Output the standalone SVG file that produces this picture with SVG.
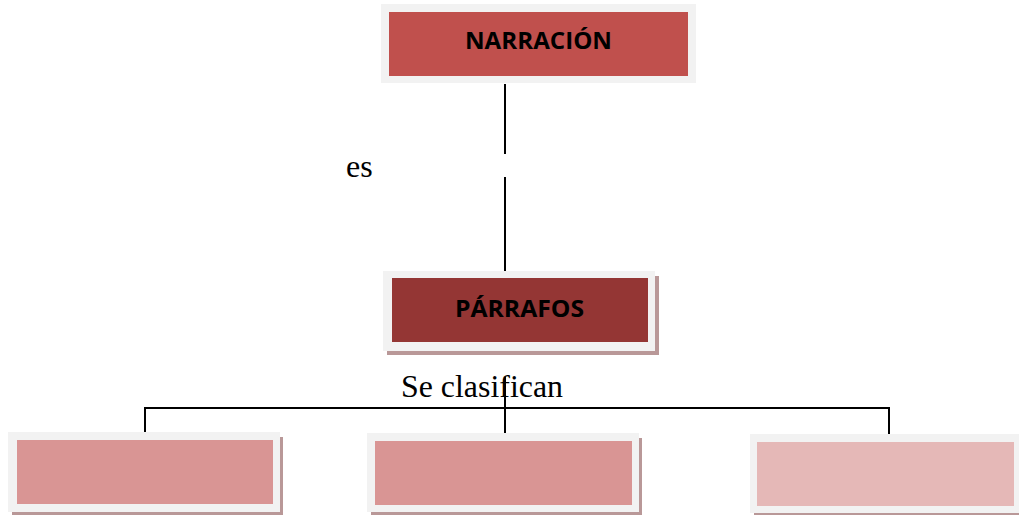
<svg xmlns="http://www.w3.org/2000/svg" width="1019" height="516" viewBox="0 0 1019 516">
<style>
.frame{fill:#F2F2F2}
.shadow{fill:#B99898}
.lbl{font-family:"Open Sans","Liberation Sans",sans-serif;font-weight:700;font-size:24px;fill:#000}
.note{font-family:"Liberation Serif","DejaVu Serif",serif;font-size:32px;fill:#000}
.conn{stroke:#000;stroke-width:2;fill:none}
</style>
<rect width="1019" height="516" fill="#fff"/>
<g id="connectors">
<line class="conn" x1="505" y1="84" x2="505" y2="154"/>
<line class="conn" x1="505" y1="177" x2="505" y2="271"/>
<line class="conn" x1="505" y1="377" x2="505" y2="433"/>
<polyline class="conn" points="145,433 145,408 889,408 889,434"/>
</g>
<text class="note" x="346" y="177">es</text>
<text class="note" x="401" y="397" font-size="33" textLength="162" lengthAdjust="spacingAndGlyphs">Se clasifican</text>
<g id="narracion">
<rect class="frame" x="381" y="4" width="315" height="79"/>
<rect x="389" y="12" width="299" height="64" fill="#C0504D"/>
<text class="lbl" x="465" y="49" textLength="147" lengthAdjust="spacingAndGlyphs">NARRACIÓN</text>
</g>
<g id="parrafos">
<rect class="shadow" x="387" y="276" width="272" height="79"/>
<rect class="frame" x="383" y="271" width="272" height="80"/>
<rect x="392" y="278" width="256" height="64" fill="#943634"/>
<text class="lbl" x="455" y="317" textLength="129" lengthAdjust="spacingAndGlyphs">PÁRRAFOS</text>
</g>
<g id="tipo1">
<rect class="shadow" x="12" y="437" width="271" height="78"/>
<rect class="frame" x="8" y="432" width="272" height="80"/>
<rect x="17" y="440" width="256" height="64" fill="#D99594"/>
</g>
<g id="tipo2">
<rect class="shadow" x="371" y="438" width="271" height="77"/>
<rect class="frame" x="367" y="433" width="272" height="79"/>
<rect x="375" y="441" width="257" height="64" fill="#D99594"/>
</g>
<g id="tipo3">
<rect class="shadow" x="754" y="439" width="270" height="76"/>
<rect class="frame" x="750" y="434" width="275" height="79"/>
<rect x="757" y="442" width="257" height="64" fill="#E5B8B7"/>
</g>
</svg>
